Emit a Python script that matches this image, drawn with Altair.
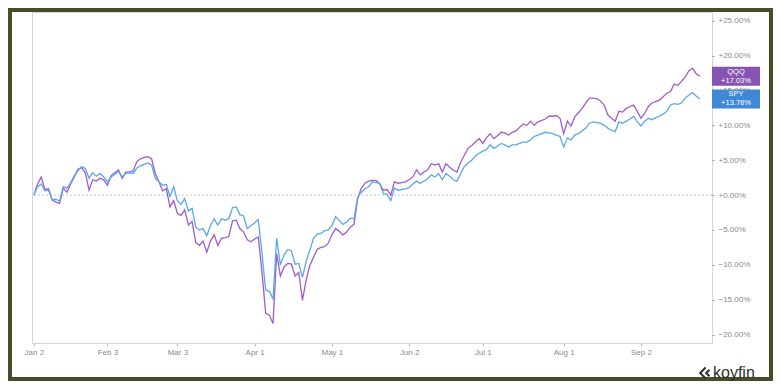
import altair as alt
import pandas as pd

# Cumulative return (%) per trading day since Jan 2, 2025
qqq = [
    0.0, 1.6, 2.6, 0.8, 0.9, -0.7, -1.0, -1.2, 1.0, 0.4,
    1.6, 2.6, 3.7, 3.9, 3.2, 0.7, 2.2, 2.0, 2.4, 2.2,
    1.4, 2.8, 3.2, 3.6, 2.4, 3.3, 3.3, 3.5, 4.8, 5.2,
    5.4, 5.5, 5.2, 3.1, 1.9, 0.6, 0.9, -1.7, -0.8, -2.6,
    -2.9, -2.1, -4.3, -3.8, -6.8, -7.2, -6.6, -8.2, -6.6, -5.7,
    -7.2, -6.2, -6.1, -5.9, -3.7, -3.6, -4.8, -5.3, -6.4, -6.7,
    -6.3, -6.0, -11.0, -16.9, -17.2, -18.4, -8.4, -11.6, -10.3, -9.8,
    -9.9, -11.6, -11.1, -15.1, -12.2, -10.1, -8.9, -7.8, -7.5, -7.4,
    -6.9, -5.7, -4.8, -5.2, -5.7, -5.3, -4.6, -4.2, -0.5, 1.0,
    1.7, 2.0, 2.1, 2.1, 1.6, 0.7, 0.8, 0.0, 1.9, 1.7,
    1.8, 1.9, 2.2, 2.6, 3.6, 2.9, 3.3, 3.6, 4.5, 4.3,
    4.5, 3.3, 4.5, 4.0, 3.6, 3.3, 4.7, 5.7, 6.7, 7.1,
    7.6, 8.1, 7.4, 8.2, 8.8, 8.1, 8.5, 9.0, 8.9, 8.6,
    9.0, 9.2, 9.7, 10.2, 10.0, 10.6, 10.0, 10.5, 10.7, 10.9,
    11.3, 11.3, 11.4, 11.0, 8.8, 10.6, 9.9, 11.2, 11.8, 12.4,
    13.2, 13.9, 13.9, 13.8, 13.5, 12.9, 11.5, 11.0, 10.6, 12.0,
    11.9, 12.4, 12.7, 12.9, 12.0, 11.0, 11.7, 12.7, 13.2, 13.4,
    13.6, 14.1, 14.6, 14.8, 15.9, 15.7, 16.3, 16.9, 17.8, 18.2,
    17.4, 17.03,
]
spy = [
    0.0, 1.2, 1.6, 0.6, 0.7, -0.7, -0.6, -0.9, 1.2, 1.0,
    1.8, 2.8, 3.5, 4.1, 3.8, 2.4, 3.2, 2.7, 3.1, 2.6,
    1.9, 2.6, 3.0, 3.4, 2.6, 3.1, 3.2, 3.1, 3.9, 4.2,
    4.4, 4.6, 4.3, 2.4, 1.9, 1.4, 1.5, -0.2, 1.2, -0.8,
    -1.3, -0.5, -2.3, -1.9, -4.6, -5.0, -4.8, -5.8, -4.4, -3.4,
    -4.3, -3.4, -3.6, -3.4, -1.8, -1.7, -2.8, -3.0, -4.8, -4.4,
    -4.0, -3.5, -8.3, -13.6, -13.8, -14.9, -6.2, -10.0, -8.6, -7.8,
    -8.0, -9.9, -9.8, -11.8, -9.5, -7.9, -6.2, -5.6, -5.5, -5.1,
    -5.0, -4.4, -3.1, -3.6, -4.2, -3.9, -3.3, -3.4, -0.3, 0.4,
    0.9, 1.2, 1.9, 1.8, 1.7, 0.2, 0.1, -0.8, 1.0, 0.7,
    0.8, 0.9, 1.1, 1.6, 2.0, 1.7, 2.0, 2.3, 2.9, 2.6,
    3.1, 2.2, 3.1, 2.7, 2.2, 2.0, 3.1, 4.1, 4.6, 5.0,
    5.6, 6.0, 6.3, 6.5, 7.2, 6.7, 7.0, 7.4, 7.2, 6.9,
    7.2, 7.2, 7.4, 7.6, 7.6, 7.9, 8.4, 8.6, 8.8, 9.0,
    8.9, 8.8, 8.6, 8.4, 6.9, 8.2, 7.9, 8.6, 8.8, 9.2,
    9.6, 10.3, 10.5, 10.4, 10.3, 10.0, 9.6, 9.3, 9.1, 10.5,
    10.3, 10.6, 10.9, 11.3, 10.5, 9.9, 10.6, 11.0, 10.8, 11.1,
    11.3, 11.6, 12.0, 12.9, 13.1, 13.0, 13.2, 13.9, 14.3, 14.7,
    14.2, 13.78,
]

tick_idx = [0, 20, 39, 60, 81, 102, 122, 144, 165]
tick_labels = ["Jan 2", "Feb 3", "Mar 3", "Apr 1", "May 1", "Jun 2", "Jul 1", "Aug 1", "Sep 2"]
y_ticks = [-20, -15, -10, -5, 0, 5, 10, 15, 20, 25]
series_names = ["QQQ", "SPY"]
last_labels = ["+17.03%", "+13.78%"]

line_colors = ["#a05ccb", "#5aa8ea"]
box_colors = ["#8753b3", "#3f88d6"]
FONT = "Liberation Sans"

W, H = 680, 331
Y_DOM = [-21.2, 26.24]
px_per_unit = H / (Y_DOM[1] - Y_DOM[0])

rows = []
for name, vals in zip(series_names, [qqq, spy]):
    for i, v in enumerate(vals):
        rows.append({"idx": i, "value": v, "series": name})
df = pd.DataFrame(rows)

yscale = alt.Scale(domain=Y_DOM, nice=False, zero=False)
xscale = alt.Scale(domain=[-0.5, 184.3], nice=False, zero=False)

x_label_expr = (
    "[" + ",".join("'%s'" % s for s in tick_labels) + "][indexof(["
    + ",".join(str(v) for v in tick_idx) + "], datum.value)]"
)

x_axis = alt.Axis(values=tick_idx, labelExpr=x_label_expr, title=None, grid=False,
                  domain=False, tickSize=3, tickColor="#bdbdbd", labelFontSize=8,
                  labelColor="#8a8a8a", labelPadding=2, labelFont=FONT)
y_axis = alt.Axis(orient="right", values=y_ticks,
                  labelExpr="(datum.value >= 0 ? '+' : '') + format(datum.value, '.2f') + '%'",
                  title=None, grid=False, domain=False, tickSize=2, tickColor="#9a9a9a",
                  labelFontSize=8, labelColor="#8a8a8a", labelPadding=4, labelFont=FONT,
                  labelOverlap=False, labelFlush=False)

one = pd.DataFrame({"a": [0]})

frame = alt.Chart(one).mark_rect(fillOpacity=0, stroke="#4a4a2c", strokeWidth=4).encode(
    x=alt.value(-22), x2=alt.value(739), y=alt.value(-2), y2=alt.value(367)
)

lines = alt.Chart(df).mark_line(strokeWidth=1.3).encode(
    x=alt.X("idx:Q", scale=xscale, axis=x_axis),
    y=alt.Y("value:Q", scale=yscale, axis=y_axis),
    color=alt.Color("series:N", scale=alt.Scale(domain=series_names, range=line_colors), legend=None),
)

zero_rule = alt.Chart(pd.DataFrame({"value": [0]})).mark_rule(
    color="#c4c4c4", strokeDash=[2, 2], strokeWidth=1
).encode(y=alt.Y("value:Q", scale=yscale, axis=y_axis))

layers = [frame, zero_rule, lines]

half = 19 / px_per_unit / 2
for name, vals, lab, bc in zip(series_names, [qqq, spy], last_labels, box_colors):
    last = vals[-1]
    d = pd.DataFrame({"value": [last], "lo": [last - half], "hi": [last + half],
                      "name": [name], "label": [lab]})
    box = alt.Chart(d).mark_rect(color=bc).encode(
        x=alt.value(680), x2=alt.value(728),
        y=alt.Y("lo:Q", scale=yscale, axis=y_axis), y2="hi:Q",
    )
    t1 = alt.Chart(d).mark_text(color="white", fontSize=7.5, dy=-4.5, font=FONT).encode(
        x=alt.value(704), y=alt.Y("value:Q", scale=yscale, axis=y_axis), text="name:N"
    )
    t2 = alt.Chart(d).mark_text(color="white", fontSize=7.5, dy=4.5, font=FONT).encode(
        x=alt.value(704), y=alt.Y("value:Q", scale=yscale, axis=y_axis), text="label:N"
    )
    layers += [box, t1, t2]

logo_text = alt.Chart(one).mark_text(
    text="koyfin", fontSize=16, fontWeight=500, color="#2f2f2f", align="left",
    baseline="alphabetic", font=FONT
).encode(x=alt.value(681), y=alt.value(366))

logo_icon = alt.Chart(one).mark_point(
    shape="M0.3,-1 L-0.7,0 L0.3,1 M1,-0.6 L0.4,0 L1,0.6", filled=False,
    strokeWidth=2, color="#2f2f2f", size=120, opacity=1
).encode(x=alt.value(672), y=alt.value(361))

layers += [logo_text, logo_icon]

chart = alt.layer(*layers).properties(
    width=W, height=H,
    autosize=alt.AutoSizeParams(type="none"),
    padding={"left": 24, "top": 4, "right": 61, "bottom": 38},
    background="white",
).configure_view(stroke="#d4d4d4", strokeWidth=1)

chart.save("out.html", embed_options={"renderer": "svg", "actions": False})
